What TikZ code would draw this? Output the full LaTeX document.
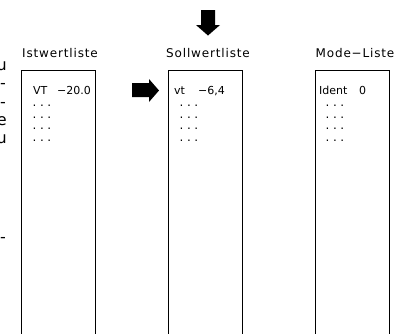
\documentclass[tikz,border=0pt]{standalone}
\usepackage{fontspec}
\setmainfont{DejaVu Sans}
\newfontfamily\listfont[LetterSpace=7]{DejaVu Sans}
\tikzset{
  title/.style={font=\listfont\fontsize{12}{14}\selectfont, inner sep=0pt, anchor=base},
  entry/.style={font=\fontsize{11}{13}\selectfont, inner sep=0pt, anchor=base west},
  dotrow/.style={font=\fontsize{12}{14}\selectfont, inner sep=0pt, anchor=base west},
  frag/.style={font=\fontsize{16}{18}\selectfont, inner sep=0pt, anchor=base east},
  listbox/.style={draw=black, line width=1pt},
  bigarrow/.style={fill=black, draw=none}
}
\newcommand{\contdots}{.\hspace{3.5pt}.\hspace{3.5pt}.}
\begin{document}
\begin{tikzpicture}[x=1pt,y=-1pt]
\useasboundingbox (0,0) rectangle (409,333);
\clip (0,0) rectangle (409,333);

% line ends of the neighbouring paragraph, cut by the left edge
\node[frag] (f1) at (7,70) {u};
\node[frag] (f2) at (6,88.5) {-};
\node[frag] (f3) at (6,107) {-};
\node[frag] (f4) at (7,125) {e};
\node[frag] (f5) at (7,143) {u};
\node[frag] (f6) at (6,242) {-};

% the three lists (open at the bottom)
\draw[listbox] (21,340) |- (95,70) -- (95,340);
\draw[listbox] (168.5,340) |- (242,70) -- (242,340);
\draw[listbox] (315.7,340) |- (389,70) -- (389,340);

% list titles
\node[title] (t1) at (60,57) {Istwertliste};
\node[title] (t2) at (208,57) {Sollwertliste};
\node[title] (t3) at (355,57) {Mode−Liste};

% first entries
\node[entry] (a1) at (33,94) {VT};
\node[entry] (a2) at (57,94) {−20.0};
\node[entry] (b1) at (174,94) {vt};
\node[entry] (b2) at (198,94) {−6,4};
\node[entry] (c1) at (319,94) {Ident};
\node[entry] (c2) at (359,94) {0};

% continuation dots
\foreach \y [count=\i] in {106,118,129.5,141.5} {
  \node[dotrow] (da\i) at (32.5,\y) {\contdots};
  \node[dotrow] (db\i) at (179.5,\y) {\contdots};
  \node[dotrow] (dc\i) at (325.5,\y) {\contdots};
}

% block arrows
\fill[bigarrow] (201,10) -- (215,10) -- (215,25) -- (220,25) -- (208,35.5)
  -- (196,25) -- (201,25) -- cycle;
\fill[bigarrow] (132,83) -- (149,83) -- (149,79) -- (159,90.5) -- (149,102)
  -- (149,97) -- (132,97) -- cycle;
\end{tikzpicture}
\end{document}
